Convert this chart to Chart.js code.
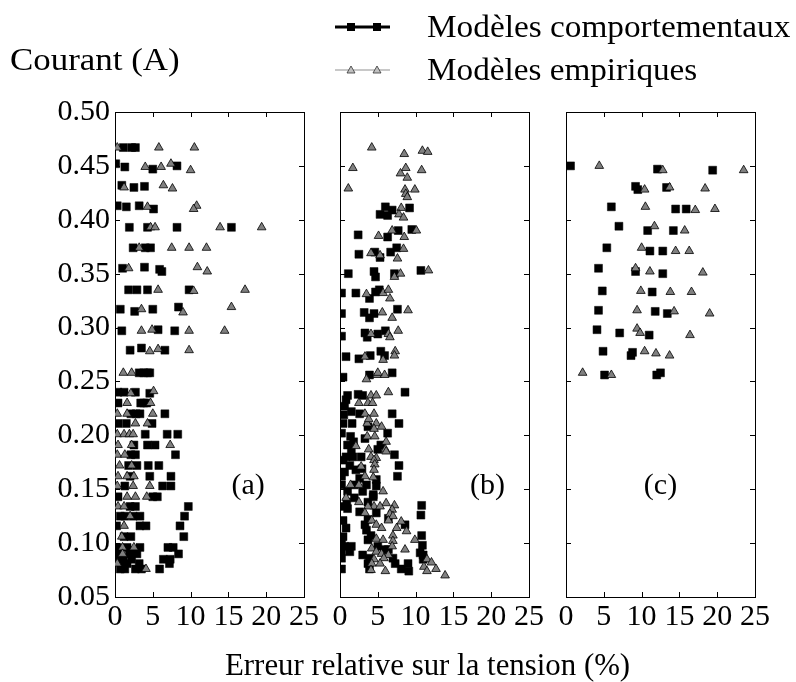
<!DOCTYPE html>
<html>
<head>
<meta charset="utf-8">
<script src="https://cdn.jsdelivr.net/npm/chart.js@4.4.1/dist/chart.umd.min.js"></script>
<style>
  body { margin: 0; background: #fff; }
  #wrap { position: relative; width: 796px; height: 682px; overflow: hidden; font-family: "Liberation Serif", serif; }
  canvas { position: absolute; left: 0; top: 0; }
  .txt { position: absolute; white-space: nowrap; font-size: 31px; line-height: 36px; transform-origin: 0 50%; }
</style>
</head>
<body>
<div id="wrap">
  <canvas id="panelA" width="796" height="682"></canvas>
  <canvas id="panelB" width="796" height="682"></canvas>
  <canvas id="panelC" width="796" height="682"></canvas>
  <div class="txt" id="ytitle" style="left:10px;top:42px" data-w="170">Courant (A)</div>
  <div class="txt" id="xtitle" style="left:225px;top:647px" data-w="405">Erreur relative sur la tension (%)</div>
  <svg style="position:absolute;left:0;top:0" width="796" height="100">
    <line x1="335" y1="27" x2="390" y2="27" stroke="#000" stroke-width="3"/>
    <rect x="347" y="23" width="8" height="8" fill="#000"/>
    <rect x="373" y="23" width="8" height="8" fill="#000"/>
    <line x1="335" y1="70" x2="390" y2="70" stroke="#c8c8c8" stroke-width="2"/>
    <polygon points="351,66 355,73 347,73" fill="#c0c0c0" stroke="#333" stroke-width="0.8"/>
    <polygon points="377,66 381,73 373,73" fill="#c0c0c0" stroke="#333" stroke-width="0.8"/>
  </svg>
  <div class="txt" style="left:427px;top:9px" data-w="363">Modèles comportementaux</div>
  <div class="txt" style="left:427px;top:52px" data-w="270">Modèles empiriques</div>
</div>
<script>
// axis ticks
const xTicks = [0, 5, 10, 15, 20, 25];
const yTicks = [0.05, 0.10, 0.15, 0.20, 0.25, 0.30, 0.35, 0.40, 0.45, 0.50];

// panel labels
const panelNames = ['(a)', '(b)', '(c)'];
const panelLabelX = [17.6, 19.5, 12.5];
const panelLabelY = 0.153;

// (a) modeles comportementaux  [erreur %, courant A]
const behavA = [
  [1.1,.467],[2.2,.467],[2.7,.467],
  [0.1,.452],[1.3,.449],[5.0,.447],[8.2,.450],
  [0.9,.432],[2.5,.430],[3.9,.431],
  [0.3,.413],[1.5,.412],[3.2,.413],[5.1,.410],
  [1.9,.393],[4.3,.393],[8.2,.393],[15.4,.393],
  [2.4,.374],[4.0,.374],[4.7,.374],
  [1.0,.355],[3.9,.356],[5.9,.354],[6.2,.352],
  [1.8,.335],[2.9,.335],[4.3,.335],[9.8,.335],
  [0.7,.317],[2.6,.315],[5.0,.317],[8.4,.319],
  [0.9,.297],[5.7,.298],[7.9,.297],
  [2.0,.279],[3.5,.281],[6.6,.279],
  [3.2,.258],[3.8,.258],[4.3,.258],[4.6,.258],
  [0.4,.240],[1.2,.240],[2.7,.240],[4.6,.239],
  [0.4,.230],[3.4,.230],[3.8,.230],[4.2,.230],
  [2.1,.220],[2.8,.220],[3.3,.220],[6.6,.220],
  [0.4,.211],[1.5,.211],[4.9,.211],
  [4.0,.201],[6.9,.201],[8.3,.201],
  [2.5,.191],[4.3,.191],[5.3,.191],
  [2.1,.182],[2.7,.182],[8.0,.182],
  [1.8,.172],[2.9,.172],[4.4,.172],[5.8,.172],
  [2.0,.162],[4.6,.162],[7.4,.162],
  [1.3,.153],[6.3,.153],[7.4,.153],
  [0.4,.143],[5.0,.143],[5.6,.143],
  [2.0,.134],[2.7,.134],[9.7,.134],
  [0.7,.125],[1.3,.125],[2.4,.125],[3.3,.125],[9.2,.125],
  [0.2,.116],[3.3,.116],[4.1,.116],[8.6,.116],
  [1.2,.106],[2.1,.106],[9.1,.106],
  [0.3,.096],[1.6,.096],[3.3,.096],[7.0,.096],[7.7,.096],
  [0.4,.090],[1.9,.090],[2.9,.090],[8.4,.090],
  [0.3,.085],[1.1,.085],[2.2,.085],[6.4,.085],[7.3,.085],
  [0.9,.081],[1.6,.081],[3.2,.081],[7.2,.081],
  [0.7,.076],[1.3,.076],[2.7,.076],[3.5,.076],[5.9,.076]
];
// (a) modeles empiriques
const empA = [
  [0.3,.467],[5.8,.467],[10.5,.467],
  [4.0,.449],[6.1,.449],[7.4,.452],[10.0,.446],
  [1.2,.430],[6.4,.432],[7.6,.429],
  [4.3,.412],[10.8,.413],[10.4,.410],
  [4.7,.393],[5.3,.393],[13.9,.393],[19.4,.393],
  [3.2,.374],[7.5,.374],[9.8,.374],[12.1,.374],
  [1.8,.355],[10.9,.356],[12.2,.352],
  [5.7,.335],[10.4,.334],[17.2,.335],
  [3.5,.317],[9.0,.314],[15.4,.319],
  [3.5,.297],[4.9,.298],[9.8,.297],[14.5,.297],
  [4.6,.278],[5.7,.280],[9.8,.279],
  [1.1,.258],[2.2,.258],
  [2.1,.239],[5.1,.241],
  [1.6,.230],[4.7,.230],
  [0.3,.220],[1.6,.220],[5.0,.220],
  [2.7,.211],[4.3,.211],
  [0.3,.201],[1.2,.201],[1.9,.201],[2.4,.201],
  [0.4,.191],[2.2,.191],[7.3,.191],
  [0.3,.182],[1.3,.182],
  [0.6,.172],[2.2,.172],
  [0.4,.162],[1.6,.162],[2.5,.162],
  [0.3,.153],[2.4,.153],[4.6,.153],
  [1.6,.143],[2.7,.143],[4.2,.143],
  [0.4,.134],[1.2,.134],
  [2.0,.125],
  [1.2,.116],
  [0.9,.106],
  [1.0,.096],[2.5,.096],
  [1.0,.090],
  [0.3,.081],
  [4.1,.076]
];

// (b)
const behavB = [
  [6.0,.412],[6.9,.409],[5.3,.405],[6.3,.404],[9.2,.411],
  [2.4,.386],[6.3,.384],[7.7,.390],[9.5,.391],
  [2.5,.368],[4.6,.370],[5.3,.365],[6.7,.370],[7.5,.374],
  [1.1,.350],[4.5,.352],[4.7,.347],[7.2,.350],[10.7,.353],
  [0.2,.332],[2.1,.332],[3.9,.327],[4.7,.333],[5.2,.335],
  [0.2,.313],[3.2,.314],[3.9,.309],[4.5,.313],[7.6,.317],
  [0.2,.292],[3.3,.295],[3.6,.291],[5.0,.294],[6.0,.297],
  [0.8,.273],[2.5,.271],[4.0,.274],[5.4,.278],[5.9,.274],
  [0.4,.254],[3.9,.256],[6.9,.258],
  [1.0,.237],[2.4,.238],[3.0,.237],[8.6,.240],
  [0.8,.233],[0.6,.227],
  [2.6,.220],[6.9,.220],[0.5,.219],[1.5,.222],
  [0.4,.211],[1.6,.211],[7.8,.211],
  [0.2,.202],[3.7,.208],[6.3,.202],
  [1.4,.199],[3.3,.197],
  [1.8,.194],[5.4,.191],[1.0,.191],
  [1.5,.187],[5.0,.187],
  [0.8,.180],[1.7,.180],[2.8,.180],[7.2,.182],
  [0.4,.177],
  [1.3,.172],[7.8,.172],
  [2.1,.168],[2.9,.169],[0.6,.166],
  [0.2,.162],[2.6,.160],[7.6,.162],[4.8,.159],
  [0.2,.154],[1.9,.154],[3.5,.154],[4.8,.153],
  [1.0,.148],[3.0,.148],[4.4,.145],
  [1.9,.142],[4.4,.143],
  [0.9,.138],[3.7,.138],[10.8,.135],
  [0.2,.134],[1.0,.132],
  [4.8,.128],[2.6,.129],[10.7,.126],
  [0.4,.121],[6.4,.123],[3.7,.122],
  [3.3,.117],[8.6,.117],
  [0.8,.114],[3.5,.112],
  [4.1,.107],[10.8,.107],[0.4,.106],
  [0.2,.103],[3.7,.103],
  [0.6,.097],[1.5,.097],[5.0,.097],[10.9,.098],[5.9,.094],
  [0.2,.092],[1.3,.092],[3.0,.089],[6.4,.094],[10.6,.091],[11.0,.089],
  [0.2,.086],[3.9,.086],[7.0,.086],[11.0,.085],
  [3.7,.081],[7.3,.081],[9.0,.081],
  [0.2,.076],[3.9,.076],[8.1,.076],[9.1,.074]
];
const empB = [
  [4.2,.467],[8.5,.461],[10.9,.464],[11.6,.463],
  [1.7,.448],[8.7,.448],[10.8,.446],[8.0,.443],[8.9,.439],
  [1.1,.429],[8.6,.428],[9.9,.428],[8.7,.424],[8.9,.421],
  [8.1,.411],[7.8,.405],[8.4,.402],
  [5.1,.385],[6.9,.390],[8.5,.384],[10.1,.390],
  [4.1,.369],[5.3,.367],[8.4,.373],[7.6,.364],
  [7.2,.347],[8.0,.350],[11.7,.353],
  [3.5,.331],[5.7,.332],[6.4,.335],[6.6,.327],
  [5.6,.314],[6.9,.309],[9.0,.316],
  [4.1,.294],[6.4,.294],[6.6,.291],[7.7,.297],
  [3.3,.273],[5.7,.270],[7.3,.278],[7.2,.274],
  [3.5,.252],[4.9,.256],[5.9,.256],[5.0,.258],
  [4.1,.237],[4.8,.237],[6.4,.240],
  [2.5,.230],[3.7,.230],[4.3,.230],
  [3.3,.220],[4.5,.220],
  [3.6,.211],[4.8,.211],[3.8,.215],
  [4.5,.206],[5.5,.208],
  [3.6,.199],[4.6,.199],
  [6.1,.194],[2.1,.190],
  [3.8,.187],[6.0,.187],[6.1,.185],
  [4.1,.180],[4.8,.179],
  [4.5,.177],
  [4.6,.173],[2.8,.171],
  [4.5,.168],
  [3.3,.162],[4.4,.161],
  [1.4,.154],[2.5,.154],
  [5.7,.148],
  [0.8,.142],[6.1,.137],
  [2.5,.138],[4.5,.134],[7.2,.135],
  [3.7,.134],[5.3,.134],[6.9,.131],
  [3.3,.128],[6.6,.127],[7.0,.125],
  [4.2,.121],[6.4,.121],
  [4.8,.117],[8.1,.120],
  [5.5,.114],[7.5,.114],[8.8,.111],
  [7.0,.107],[4.8,.104],
  [5.7,.103],[7.0,.102],[9.9,.103],
  [4.2,.095],[6.9,.097],[8.6,.094],
  [4.8,.092],[5.5,.090],[6.4,.089],
  [4.5,.085],[5.8,.086],[11.5,.085],[12.1,.082],
  [4.2,.081],[5.3,.081],[11.1,.078],
  [4.1,.075],[6.0,.074],[11.5,.074],[12.7,.076],[13.9,.070]
];

// (c)
const behavC = [
  [0.6,.450],[12.1,.447],[19.4,.446],
  [9.2,.431],[9.5,.428],[13.3,.430],
  [6.0,.412],[14.5,.410],[15.9,.410],
  [7.0,.394],[10.8,.390],[14.2,.390],
  [5.4,.374],[11.1,.371],[12.8,.371],
  [4.3,.355],[9.2,.352],[12.8,.350],
  [4.8,.334],[11.4,.333],
  [4.3,.316],[11.8,.315],[13.4,.313],
  [4.1,.298],[7.1,.295],[11.0,.293],
  [4.9,.278],[8.6,.274],[8.8,.277],
  [5.1,.256],[12.0,.256],[12.5,.258]
];
const empC = [
  [4.4,.450],[12.8,.446],[23.5,.446],
  [10.4,.428],[13.7,.430],[18.4,.429],
  [10.5,.412],[17.1,.409],[19.7,.410],
  [11.7,.394],[15.7,.390],
  [10.0,.374],[14.5,.371],[16.3,.371],
  [9.2,.355],[11.1,.352],[18.1,.351],
  [9.9,.334],[13.8,.333],[16.6,.333],
  [9.4,.316],[14.3,.315],[19.0,.313],
  [9.4,.299],[9.8,.295],[16.4,.293],
  [10.4,.278],[11.9,.276],[13.7,.274],
  [2.2,.258],[6.0,.256]
];

const FONT = { family: '"Liberation Serif", serif', size: 30 };

// cadre complet + graduations vers l'interieur + etiquette (a)/(b)/(c)
const framePlugin = {
  id: 'frame',
  beforeDatasetsDraw(chart, args, opts) {
    const { ctx, chartArea: a, scales: { x, y } } = chart;
    const t = 5;
    ctx.save();
    ctx.strokeStyle = '#000';
    ctx.lineWidth = 1;
    ctx.strokeRect(a.left + 0.5, a.top + 0.5, a.width, a.height);
    ctx.beginPath();
    xTicks.forEach(v => {
      const px = Math.round(x.getPixelForValue(v)) + 0.5;
      ctx.moveTo(px, a.top); ctx.lineTo(px, a.top + t);
      ctx.moveTo(px, a.bottom); ctx.lineTo(px, a.bottom - t);
    });
    yTicks.forEach(v => {
      const py = Math.round(y.getPixelForValue(v)) + 0.5;
      ctx.moveTo(a.left, py); ctx.lineTo(a.left + t, py);
      ctx.moveTo(a.right, py); ctx.lineTo(a.right - t, py);
    });
    ctx.stroke();
    ctx.fillStyle = '#000';
    ctx.font = '30px "Liberation Serif", serif';
    ctx.textAlign = 'center';
    ctx.textBaseline = 'middle';
    ctx.fillText(panelNames[opts.idx], x.getPixelForValue(panelLabelX[opts.idx]), y.getPixelForValue(panelLabelY));
    ctx.restore();
  }
};

function draw_panel(id, idx, behav, emp, padLeft, padRight) {
  const toPts = arr => arr.map(p => ({ x: p[0], y: p[1] }));
  new Chart(document.getElementById(id), {
    type: 'scatter',
    data: {
      datasets: [
        {
          label: 'Modèles empiriques',
          data: toPts(emp),
          pointStyle: 'triangle',
          pointRadius: 5,
          backgroundColor: '#808080',
          borderColor: '#000',
          borderWidth: 0.8,
          order: 0,
          clip: 0
        },
        {
          label: 'Modèles comportementaux',
          data: toPts(behav),
          pointStyle: 'rect',
          pointRadius: 5.6,
          backgroundColor: '#000',
          borderColor: '#000',
          borderWidth: 0.5,
          order: 1,
          clip: 0
        }
      ]
    },
    options: {
      responsive: false,
      animation: false,
      events: [],
      layout: { padding: { left: padLeft, right: padRight, top: 112, bottom: 0 } },
      plugins: { legend: { display: false }, tooltip: { enabled: false }, frame: { idx: idx } },
      scales: {
        x: {
          type: 'linear', min: 0, max: 25,
          afterBuildTicks: s => { s.ticks = xTicks.map(v => ({ value: v })); },
          afterFit: s => { s.height = 85; },
          grid: { display: false, drawTicks: false },
          border: { display: false },
          ticks: { font: FONT, color: '#000', padding: 2, maxRotation: 0, autoSkip: false }
        },
        y: {
          type: 'linear', min: 0.05, max: 0.5,
          afterBuildTicks: s => { s.ticks = yTicks.map(v => ({ value: v })); },
          afterFit: s => { s.width = idx === 0 ? 115 : 0; },
          grid: { display: false, drawTicks: false },
          border: { display: false },
          ticks: { display: idx === 0, font: FONT, color: '#000', padding: 5, callback: v => v.toFixed(2) }
        }
      }
    },
    plugins: [framePlugin]
  });
}

draw_panel('panelA', 0, behavA, empA, 0, 796 - 304);
draw_panel('panelB', 1, behavB, empB, 340, 796 - 529);
draw_panel('panelC', 2, behavC, empC, 566, 796 - 755);

// ajuste la largeur des textes a celle de la figure
document.querySelectorAll('.txt').forEach(el => {
  const w = +el.dataset.w;
  if (w) el.style.transform = 'scaleX(' + (w / el.offsetWidth) + ')';
});
</script>
</body>
</html>
